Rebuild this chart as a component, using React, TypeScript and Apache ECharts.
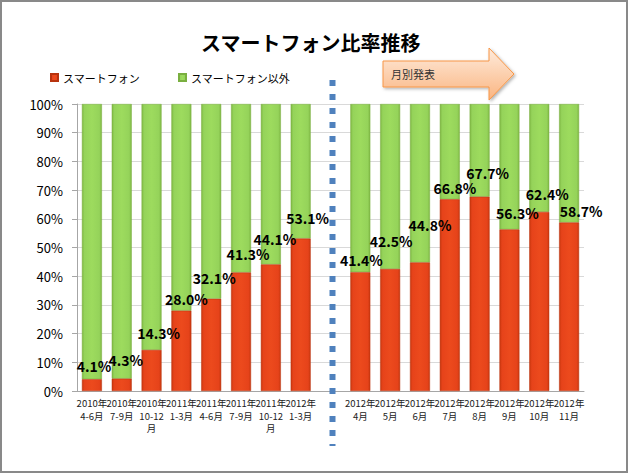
import React, { useEffect, useRef } from "react";
import * as echarts from "echarts";

const titleText = "スマートフォン比率推移";
const seriesNames = ["スマートフォン", "スマートフォン以外"];
const categories = [
  "2010年\n4-6月", "2010年\n7-9月", "2010年\n10-12\n月", "2011年\n1-3月",
  "2011年\n4-6月", "2011年\n7-9月", "2011年\n10-12\n月", "2012年\n1-3月",
  "",
  "2012年\n4月", "2012年\n5月", "2012年\n6月", "2012年\n7月",
  "2012年\n8月", "2012年\n9月", "2012年\n10月", "2012年\n11月",
];
const smartphone = [4.1, 4.3, 14.3, 28.0, 32.1, 41.3, 44.1, 53.1, null, 41.4, 42.5, 44.8, 66.8, 67.7, 56.3, 62.4, 58.7];
const others = [95.9, 95.7, 85.7, 72.0, 67.9, 58.7, 55.9, 46.9, null, 58.6, 57.5, 55.2, 33.2, 32.3, 43.7, 37.6, 41.3];
const dividerIndex = 8;
const arrowLabel = "月別発表";

// label placement (style only): shift of each data label from the bar top, in px
const labelDx = [2, 4, 7, 5, 3, 7, 4, 7, 0, 1, 1, 10, 5, 8, 8, 8, 12];
const labelDy = [-13, -19, -17, -12, -21, -18, -25, -21, 0, -12, -28, -37, -11, -24, -16, -18, -12];

const FONT = "'Noto Sans CJK JP', 'Noto Sans', sans-serif";

export default function App() {
  const ref = useRef<HTMLDivElement>(null);
  useEffect(() => {
    document.body.style.margin = "0";
    const chart = echarts.init(ref.current!, null, { renderer: "svg" });
    const redGrad = new echarts.graphic.LinearGradient(0, 0, 1, 0, [
      { offset: 0, color: "#C9380F" },
      { offset: 0.12, color: "#E6431A" },
      { offset: 0.5, color: "#EC4A1D" },
      { offset: 0.88, color: "#E6431A" },
      { offset: 1, color: "#C9380F" },
    ]);
    const greenGrad = new echarts.graphic.LinearGradient(0, 0, 1, 0, [
      { offset: 0, color: "#7FB844" },
      { offset: 0.12, color: "#95D35A" },
      { offset: 0.5, color: "#9DDB5E" },
      { offset: 0.88, color: "#95D35A" },
      { offset: 1, color: "#7FB844" },
    ]);
    chart.setOption({
      animation: false,
      backgroundColor: "#ffffff",
      textStyle: { fontFamily: FONT },
      title: {
        text: titleText,
        left: 196,
        top: 27,
        textStyle: { fontSize: 20, fontWeight: "bold", color: "#000", fontFamily: FONT },
      },
      legend: {
        left: 45,
        top: 67,
        icon: "rect",
        itemWidth: 7,
        itemHeight: 7,
        itemGap: 38,
        textStyle: { fontSize: 11, color: "#000", fontFamily: FONT },
        data: seriesNames,
      },
      grid: { left: 77, right: 45, top: 104, bottom: 83 },
      xAxis: {
        type: "category",
        data: categories,
        axisLine: { lineStyle: { color: "#A6A6A6" } },
        axisTick: { show: false },
        axisLabel: {
          interval: 0,
          fontSize: 9.5,
          lineHeight: 12.5,
          color: "#222",
          margin: 6,
          fontFamily: FONT,
        },
      },
      yAxis: {
        type: "value",
        min: 0,
        max: 100,
        interval: 10,
        axisLine: { show: true, lineStyle: { color: "#A6A6A6" } },
        axisTick: { show: true, length: 5, lineStyle: { color: "#A6A6A6" } },
        splitLine: { lineStyle: { color: "#D9D9D9" } },
        axisLabel: {
          formatter: "{value}%",
          fontSize: 13,
          color: "#000",
          margin: 14,
          fontFamily: FONT,
        },
      },
      series: [
        {
          name: seriesNames[0],
          type: "bar",
          stack: "total",
          data: smartphone,
          barWidth: "67%",
          z: 3,
          itemStyle: { color: redGrad, borderColor: "#B8330E", borderWidth: 0.5 },
          label: {
            show: true,
            position: "top",
            distance: 0,
            lineHeight: 14,
            formatter: (p: any) => (p.value == null ? "" : Number(p.value).toFixed(1) + "%"),
            fontSize: 14,
            fontWeight: "bold",
            color: "#000",
            fontFamily: FONT,
          },
          labelLayout: (params: any) => {
            const i = params.dataIndex;
            return { dx: labelDx[i], dy: labelDy[i] + 7, hideOverlap: false };
          },
        },
        {
          name: seriesNames[1],
          type: "bar",
          stack: "total",
          data: others,
          barWidth: "67%",
          z: 2,
          itemStyle: { color: greenGrad, borderColor: "#7AAF40", borderWidth: 0.5 },
        },
      ],
      color: ["#E4431A", "#92D050"],
    });
    const dx = chart.convertToPixel({ xAxisIndex: 0 }, dividerIndex) as number;
    chart.setOption({
      graphic: [
        {
          type: "rect",
          shape: { x: 1, y: 1, width: 626, height: 471 },
          style: { fill: "none", stroke: "#898989", lineWidth: 2 },
          z: 100,
        },
        {
          type: "line",
          shape: { x1: dx + 2, y1: 80, x2: dx + 2, y2: 446 },
          style: { stroke: "#4F81BD", lineWidth: 6, lineDash: [6, 8], lineCap: "butt" },
          z: 50,
        },
        {
          type: "polygon",
          shape: {
            points: [
              [383, 61], [489, 61], [489, 48], [514, 74], [489, 100], [489, 87], [383, 87],
            ],
          },
          style: {
            fill: new echarts.graphic.LinearGradient(0, 0, 0, 1, [
              { offset: 0, color: "#FEEBDC" },
              { offset: 1, color: "#FAB581" },
            ]),
            stroke: "#F79646",
            lineWidth: 1,
            shadowBlur: 3,
            shadowOffsetX: 1.5,
            shadowOffsetY: 1.5,
            shadowColor: "rgba(0,0,0,0.3)",
          },
          z: 50,
        },
        {
          type: "text",
          x: 391,
          y: 74,
          style: {
            text: arrowLabel,
            fontSize: 11,
            fill: "#333",
            fontFamily: FONT,
            verticalAlign: "middle",
          },
          z: 51,
        },
      ],
    });
    return () => chart.dispose();
  }, []);
  return <div ref={ref} style={{ width: 629, height: 474 }} />;
}
